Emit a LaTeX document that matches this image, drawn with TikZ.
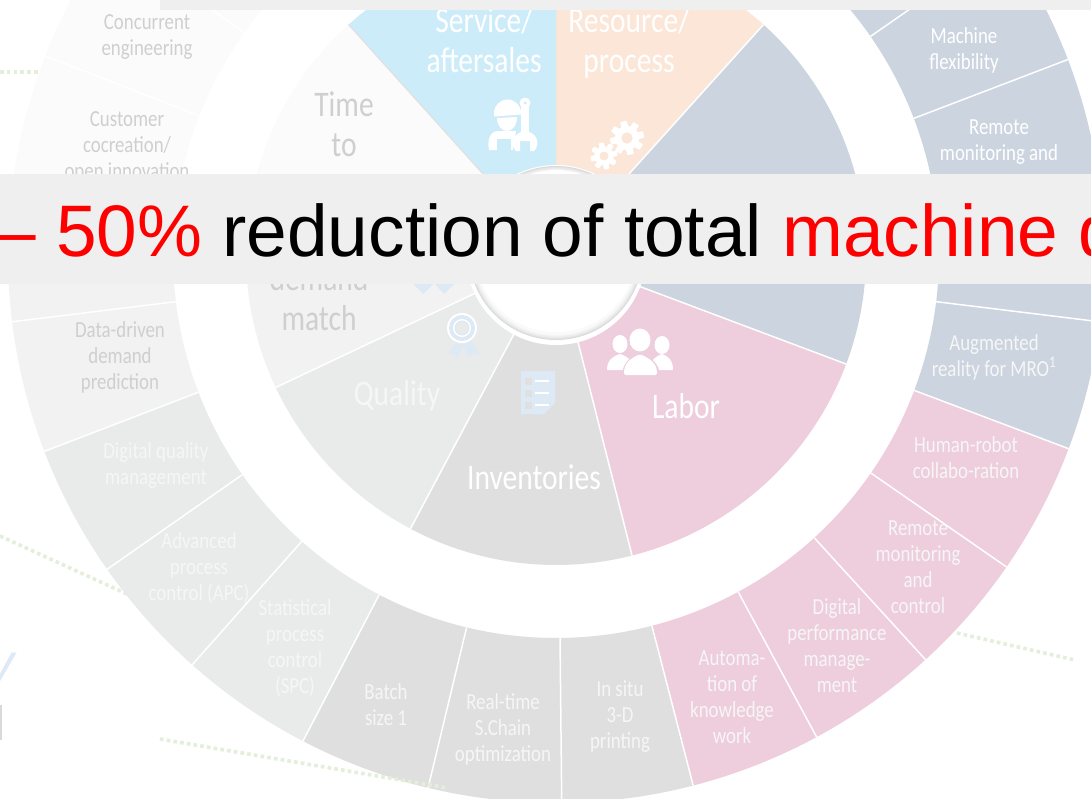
\documentclass[tikz,border=0pt]{standalone}
\usepackage{fontspec}
\usetikzlibrary{calc}
\setmainfont{Liberation Sans}
\newfontfamily\labfont[FakeStretch=0.82]{Carlito}
\definecolor{cTop}{HTML}{FBFBFB}
\definecolor{cDem}{HTML}{F2F2F2}
\definecolor{cQual}{HTML}{E9EAEA}
\definecolor{cInv}{HTML}{DFDFDF}
\definecolor{cSlate}{HTML}{CCD4DF}
\definecolor{cPink}{HTML}{EECDDD}
\definecolor{cServ}{HTML}{CDECF9}
\definecolor{cRes}{HTML}{FBE6D8}
\definecolor{cBand}{HTML}{EFEFEF}
\definecolor{cDot}{HTML}{E3EEDB}
\definecolor{cPale}{HTML}{DDE9F4}
\definecolor{cGreyText}{HTML}{CFCFCF}
\definecolor{cSoft}{HTML}{F6F6F6}
\tikzset{
  small/.style={font=\labfont\fontsize{23}{26}\selectfont,align=center,inner sep=0pt},
  big/.style={font=\labfont\fontsize{36}{40}\selectfont,align=center,inner sep=0pt},
  dotline/.style={draw=cDot,line width=3.6pt,dash pattern=on 3.6pt off 3.2pt},
  seam/.style={draw=white,line width=1.5pt}
}
\newcommand{\sect}[5]{\fill[#5] ($(c)+(#1:#3pt)$) arc[start angle=#1,end angle=#2,radius=#3pt] -- ($(c)+(#2:#4pt)$) arc[start angle=#2,end angle=#1,radius=#4pt] -- cycle;}
\newcommand{\seamat}[3]{\draw[seam] ($(c)+(#1:#2pt)$) -- ($(c)+(#1:#3pt)$);}
\newcommand{\gearicon}[4]{%
  \foreach \t in {0,45,...,315}{\fill[white,rounded corners=0.8pt,shift={(#1,#2)},rotate=\t+12] (-#3*0.2,#3*0.55) rectangle (#3*0.2,#3);}
  \fill[white] (#1,#2) circle[radius=#3*0.72pt];
  \fill[#4] (#1,#2) circle[radius=#3*0.33pt];}
\begin{document}
\begin{tikzpicture}[x=1pt,y=1pt]
\useasboundingbox (0,0) rectangle (1091,-798);
\clip (0,0) rectangle (1091,-798);
\fill[white] (0,0) rectangle (1091,-798);
\coordinate (c) at (556,-255);
% dotted background lines
\coordinate (d1a) at (0,-72); \coordinate (d1b) at (43,-72);
\coordinate (d2a) at (0,-536); \coordinate (d2b) at (127,-594);
\coordinate (d4a) at (957,-633); \coordinate (d4b) at (1075,-660);
\draw[dotline] (d1a) -- (d1b);
\draw[dotline] (d2a) -- (d2b);
% outer ring
\sect{132}{173}{383}{548}{cTop}
\sect{173}{201}{383}{548}{cDem}
\sect{201}{242.5}{383}{548}{cQual}
\sect{242.5}{284.5}{383}{548}{cInv}
\sect{284.5}{339.3}{383}{548}{cPink}
\sect{-20.7}{60}{383}{548}{cSlate}
\foreach \a in {144.5,158.7,187,201,215,228.4,242.5,256.5,270.6,284.5,298.4,312.4,325.3,339.3,353,20.9,34.8}{\seamat{\a}{383}{548}}
% inner wedges
\sect{132}{173}{88}{310}{cTop}
\sect{173}{205.3}{88}{310}{cDem}
\sect{205.3}{242}{88}{310}{cQual}
\sect{242}{284.2}{88}{310}{cInv}
\sect{284.2}{339.4}{88}{310}{cPink}
\sect{-20.6}{48}{88}{310}{cSlate}
\sect{48}{90}{88}{310}{cRes}
\sect{90}{132}{88}{310}{cServ}
\foreach \a in {205.3,242,284.2,339.4,48}{\seamat{\a}{88}{310}}
\draw[draw=black!12,line width=1.2pt] ($(c)+(132:88pt)$) -- ($(c)+(132:310pt)$);
% hub
\fill[white] (c) circle[radius=90pt];
\foreach \r/\k in {87/14,86/11,85/8,84/6,83/4,82/2}{\fill[black!\k] (556,-253) circle[radius=\r pt];}
\fill[white] (556,-251) circle[radius=81pt];
% small icons: worker and wrench
\begin{scope}[white]
\fill (494,-113) arc[start angle=180,end angle=0,radius=13.5pt] -- (522,-114.5) -- (494,-116.5) -- cycle;
\fill (497,-118) -- (517,-117) .. controls (517,-127) and (511,-131) .. (507,-131) .. controls (502,-131) and (497,-126) .. (497,-118) -- cycle;
\fill (489,-150) .. controls (487,-140) and (490,-132) .. (497,-131) -- (516,-131) -- (513,-150) -- cycle;
\fill[cServ] (497,-139) rectangle (511,-151);
\fill (525,-103) circle[radius=5.5pt];
\fill (521,-103) rectangle (529,-134);
\fill (516,-151) .. controls (510,-145) and (513,-135) .. (521,-132) -- (529,-132) .. controls (538,-135) and (540,-145) .. (534,-151) -- (530,-151) -- (530,-141) -- (520,-141) -- (520,-151) -- cycle;
\fill[cServ] (525,-103) circle[radius=1.5pt];
\end{scope}
% gears
\gearicon{627}{-138}{17}{cRes}
\gearicon{604}{-156}{13.5}{cRes}
% people
\begin{scope}[white]
\fill (620,-344) ellipse[x radius=7.5pt,y radius=9pt];
\fill (607,-370) .. controls (607,-360) and (613,-356) .. (620,-354) .. controls (627,-356) and (633,-360) .. (633,-370) -- cycle;
\fill (662,-345) ellipse[x radius=7.5pt,y radius=9pt];
\fill (650,-370) .. controls (650,-360) and (656,-356) .. (662,-354) .. controls (668,-356) and (673,-360) .. (673,-370) -- cycle;
\fill[cPink] (640,-340) ellipse[x radius=13pt,y radius=13pt];
\fill (640,-340) ellipse[x radius=10.5pt,y radius=11.5pt];
\fill[cPink] (622,-376) .. controls (622,-362) and (632,-356) .. (640,-353) .. controls (648,-356) and (660,-362) .. (660,-376) -- cycle;
\fill[rounded corners=2pt] (624,-375) .. controls (624,-362) and (632,-358) .. (640,-354) .. controls (648,-358) and (657,-362) .. (657,-375) -- cycle;
\end{scope}
% ribbon
\fill[cPale] (456,-344) -- (448,-354) -- (454,-354) -- (457,-359) -- (464,-345) -- cycle;
\fill[cPale] (463,-345) -- (469,-358) -- (472,-353) -- (479,-354) -- (471,-341) -- cycle;
\fill[white,draw=none] (462,-328) circle[radius=15pt];
\fill[cPale] (462,-328) circle[radius=13pt];
\fill[white] (462,-328) circle[radius=9pt];
\fill[cPale] (462,-328) circle[radius=7.5pt];
\fill[cQual] (462,-328) circle[radius=6pt];
% checklist
\fill[cPale] (521,-371) -- (555,-371) -- (555,-403) -- (544,-414) -- (521,-414) -- cycle;
\foreach \yy in {-381,-393,-405}{
  \fill[black!12] (525,\yy+3.5) rectangle (532,\yy-3.5);
  \fill[white] (535,\yy+1) rectangle (549,\yy-1);}
% text blocks under the band
\node[small,text=cGreyText] (concurrent) at (147,-37) {Concurrent\\engineering};
\node[small,text=cGreyText,anchor=north] (customer) at (127,-111) {Customer\\cocreation/\\open innovation};
\node[big,text=cGreyText,anchor=north] (timeto) at (344,-92) {Time\\to};
\node[big,text=cGreyText,anchor=north] (match) at (319,-265) {demand\\match};
\node[big,text=white] (service) at (484,-40) {Service/\\aftersales};
\node[big,text=white] (resource) at (629,-43) {Resource/\\process};
\node[small,text=white] (machine) at (964,-50) {Machine\\flexibility};
\node[small,text=white,anchor=north] (remote) at (999,-120) {Remote\\monitoring and};
\node[big,text=white] (asset) at (760,-187) {Asset};
\node[big,text=white] (labor) at (686,-406) {Labor};
\node[big,text=white] (inventories) at (534,-477) {Inventories};
\node[big,text=cSoft] (quality) at (397,-396) {Quality};
\node[small,text=cGreyText,anchor=north] (datadriven) at (120,-321) {Data-driven\\demand\\prediction};
\node[small,text=cSoft] (digitalq) at (156,-465) {Digital quality\\management};
\node[small,text=cSoft] (apc) at (199,-568) {Advanced\\process\\control (APC)};
\node[small,text=cSoft] (spc) at (295,-648) {Statistical\\process\\control\\(SPC)};
\node[small,text=cSoft] (batch) at (386,-705) {Batch\\size 1};
\node[small,text=cSoft] (realtime) at (503,-729) {Real-time\\S.Chain\\optimization};
\node[small,text=cSoft] (insitu) at (620,-717) {In situ\\3-D\\printing};
\node[small,text=cSoft] (autom) at (732,-697) {Automa-\\tion of\\knowledge\\work};
\node[small,text=cSoft] (digperf) at (837,-646) {Digital\\performance\\manage-\\ment};
\node[small,text=cSoft] (remote2) at (918,-567) {Remote\\monitoring\\and\\control};
\node[small,text=cSoft] (human) at (966,-458) {Human-robot\\collabo-ration};
\node[small,text=cSoft] (augm) at (994,-357) {Augmented\\reality for MRO\textsuperscript{1}};
% dots over the ring
\coordinate (d3a) at (160,-739); \coordinate (d3b) at (448,-788);
\draw[dotline] (d3a) -- (d3b);
\draw[dotline] (d4a) -- (d4b);
% clipped fragments at the left edge
\node[font=\fontsize{52}{52}\selectfont\itshape,text=cPale,anchor=base east,inner sep=0pt] (fragy) at (15,-680) {y};
\fill[black!15] (0,-705) rectangle (2,-740);
% diamonds (cut by the band)
\fill[cPale] (413,-284) -- (433,-284) -- (423,-294) -- cycle;
\fill[cPale] (435,-284) -- (454,-284) -- (444,-294) -- cycle;
% bands
\fill[cBand] (160,0) rectangle (1091,-10);
\fill[cBand] (0,-174) rectangle (1091,-284);
\node[anchor=base west,inner sep=0pt,font=\fontsize{73}{73}\selectfont] (headline) at (-5,-256) {\textcolor{red}{– 50\%} reduction of total \textcolor{red}{machine d}};
\end{tikzpicture}
\end{document}
